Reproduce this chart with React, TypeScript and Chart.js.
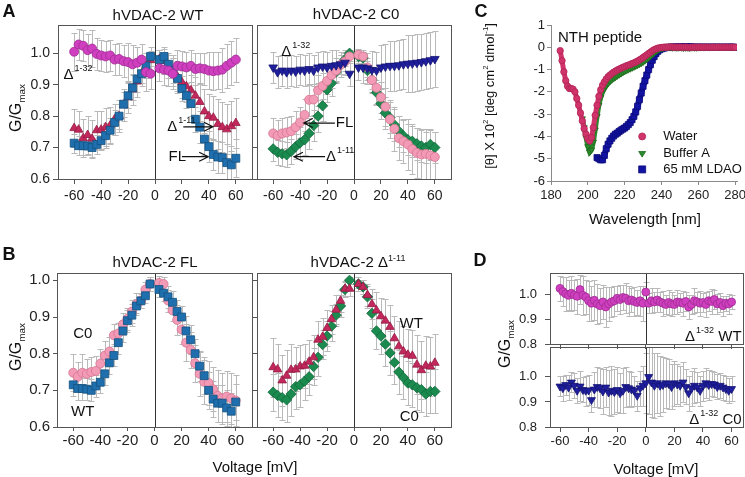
import React, { useEffect, useRef } from 'react';
import { Chart, registerables } from 'chart.js';
Chart.register(...registerables);

// ================= DATA =================
// Panels A and B: voltage (mV)
const V_AB = [-60, -56.7, -53.3, -50, -46.7, -43.3, -40, -36.7, -33.3, -30, -26.7, -23.3, -20, -16.7, -13.3, -10, -6.7, -3.3,
  3.3, 6.7, 10, 13.3, 16.7, 20, 23.3, 26.7, 30, 33.3, 36.7, 40, 43.3, 46.7, 50, 53.3, 56.7, 60];

// A: hVDAC-2 WT
const A_D132_WT = [1.005, 1.028, 1.024, 1.010, 1.015, 0.998, 0.993, 0.990, 0.993, 0.980, 0.982, 0.975, 0.972, 0.965, 0.970, 0.980, 0.940, 0.935,
  0.952, 0.948, 0.945, 0.935, 0.960, 0.958, 0.955, 0.960, 0.950, 0.952, 0.950, 0.945, 0.943, 0.945, 0.948, 0.960, 0.970, 0.980];
const A_D132_WT_ERR = [0.06, 0.05, 0.05, 0.05, 0.06, 0.05, 0.05, 0.05, 0.05, 0.05, 0.05, 0.05, 0.06, 0.06, 0.05, 0.05, 0.06, 0.05,
  0.04, 0.05, 0.05, 0.05, 0.05, 0.05, 0.05, 0.05, 0.05, 0.05, 0.05, 0.06, 0.06, 0.06, 0.07, 0.07, 0.07, 0.07];
const A_FL_WT = [0.714, 0.706, 0.706, 0.705, 0.700, 0.710, 0.722, 0.738, 0.755, 0.780, 0.800, 0.838, 0.865, 0.890, 0.918, 0.935, 0.960, 0.990,
  0.980, 0.990, 0.965, 0.945, 0.920, 0.888, 0.865, 0.840, 0.790, 0.765, 0.727, 0.703, 0.678, 0.670, 0.668, 0.652, 0.645, 0.666];
const A_FL_WT_ERR = [0.03, 0.03, 0.03, 0.03, 0.03, 0.03, 0.03, 0.04, 0.04, 0.04, 0.04, 0.04, 0.04, 0.04, 0.04, 0.03, 0.03, 0.03,
  0.03, 0.03, 0.03, 0.04, 0.04, 0.04, 0.04, 0.04, 0.04, 0.05, 0.05, 0.05, 0.05, 0.05, 0.05, 0.06, 0.06, 0.06];
const A_D111_WT = [0.762, 0.757, 0.730, 0.740, 0.728, 0.755, 0.757, 0.765, 0.770, 0.790, 0.800, 0.835, 0.860, 0.885, 0.910, 0.935, 0.960, 0.978,
  0.982, 0.975, 0.962, 0.945, 0.925, 0.908, 0.895, 0.882, 0.865, 0.845, 0.815, 0.800, 0.795, 0.775, 0.765, 0.758, 0.768, 0.778];
const A_D111_WT_ERR = [0.06, 0.06, 0.06, 0.06, 0.06, 0.06, 0.06, 0.06, 0.06, 0.05, 0.05, 0.05, 0.05, 0.05, 0.05, 0.04, 0.04, 0.03,
  0.03, 0.04, 0.04, 0.05, 0.05, 0.05, 0.05, 0.05, 0.06, 0.06, 0.07, 0.07, 0.07, 0.08, 0.08, 0.08, 0.08, 0.08];

// A: hVDAC-2 C0
const A_D132_C0 = [0.955, 0.940, 0.945, 0.940, 0.945, 0.942, 0.948, 0.945, 0.950, 0.945, 0.955, 0.958, 0.955, 0.960, 0.962, 0.965, 0.970, 0.935,
  0.955, 0.955, 0.952, 0.947, 0.945, 0.955, 0.958, 0.960, 0.960, 0.962, 0.965, 0.967, 0.968, 0.970, 0.972, 0.975, 0.978, 0.982];
const A_D132_C0_ERR = [0.05, 0.05, 0.05, 0.05, 0.05, 0.05, 0.05, 0.05, 0.05, 0.05, 0.05, 0.05, 0.05, 0.05, 0.05, 0.04, 0.04, 0.04,
  0.04, 0.05, 0.05, 0.06, 0.06, 0.07, 0.07, 0.08, 0.08, 0.08, 0.08, 0.09, 0.09, 0.09, 0.09, 0.09, 0.09, 0.09];
const A_FL_C0 = [0.745, 0.738, 0.745, 0.748, 0.752, 0.765, 0.780, 0.804, 0.852, 0.853, 0.882, 0.896, 0.912, 0.930, 0.945, 0.963, 0.974, 0.990,
  0.995, 0.990, 0.955, 0.915, 0.890, 0.860, 0.830, 0.790, 0.760, 0.730, 0.720, 0.710, 0.695, 0.683, 0.678, 0.680, 0.675, 0.670];
const A_FL_C0_ERR = [0.05, 0.05, 0.05, 0.05, 0.05, 0.05, 0.05, 0.05, 0.05, 0.05, 0.05, 0.04, 0.04, 0.04, 0.04, 0.03, 0.03, 0.02,
  0.02, 0.02, 0.03, 0.04, 0.05, 0.05, 0.06, 0.06, 0.07, 0.07, 0.07, 0.08, 0.08, 0.08, 0.08, 0.08, 0.08, 0.08];
const A_D111_C0 = [0.696, 0.685, 0.680, 0.677, 0.688, 0.703, 0.715, 0.725, 0.745, 0.770, 0.800, 0.833, 0.884, 0.905, 0.940, 0.963, 0.980, 1.000,
  0.990, 0.985, 0.945, 0.916, 0.875, 0.840, 0.810, 0.795, 0.772, 0.752, 0.737, 0.725, 0.720, 0.712, 0.705, 0.700, 0.710, 0.700];
const A_D111_C0_ERR = [0.04, 0.04, 0.04, 0.04, 0.04, 0.04, 0.05, 0.05, 0.05, 0.05, 0.05, 0.05, 0.04, 0.04, 0.03, 0.03, 0.02, 0.01,
  0.02, 0.02, 0.03, 0.04, 0.04, 0.05, 0.05, 0.05, 0.05, 0.05, 0.05, 0.05, 0.05, 0.05, 0.05, 0.05, 0.05, 0.05];

// B: hVDAC-2 FL
const B_FL_WT = [0.715, 0.705, 0.705, 0.703, 0.700, 0.712, 0.722, 0.745, 0.775, 0.795, 0.830, 0.862, 0.890, 0.905, 0.930, 0.944, 0.958, 0.990,
  0.975, 0.965, 0.955, 0.940, 0.915, 0.900, 0.862, 0.838, 0.800, 0.766, 0.740, 0.700, 0.676, 0.665, 0.665, 0.652, 0.643, 0.668];
const B_FL_WT_ERR = [0.03, 0.03, 0.03, 0.03, 0.03, 0.03, 0.03, 0.03, 0.03, 0.03, 0.03, 0.03, 0.03, 0.03, 0.02, 0.02, 0.02, 0.02,
  0.02, 0.02, 0.03, 0.03, 0.03, 0.03, 0.04, 0.04, 0.04, 0.04, 0.05, 0.05, 0.05, 0.05, 0.05, 0.05, 0.05, 0.05];
const B_FL_C0 = [0.748, 0.737, 0.748, 0.745, 0.750, 0.753, 0.773, 0.795, 0.806, 0.850, 0.855, 0.880, 0.895, 0.915, 0.935, 0.945, 0.975, 0.990,
  0.993, 0.990, 0.945, 0.918, 0.892, 0.866, 0.830, 0.810, 0.774, 0.745, 0.723, 0.720, 0.703, 0.685, 0.678, 0.683, 0.678, 0.672];
const B_FL_C0_ERR = [0.05, 0.04, 0.05, 0.04, 0.04, 0.04, 0.04, 0.04, 0.04, 0.03, 0.03, 0.03, 0.03, 0.03, 0.03, 0.02, 0.02, 0.02,
  0.02, 0.02, 0.03, 0.03, 0.04, 0.04, 0.05, 0.05, 0.05, 0.06, 0.06, 0.06, 0.06, 0.07, 0.07, 0.07, 0.07, 0.07];

// B: hVDAC-2 Δ1-11
const B_D111_WT = [0.763, 0.757, 0.727, 0.740, 0.756, 0.757, 0.765, 0.767, 0.778, 0.790, 0.838, 0.846, 0.870, 0.894, 0.920, 0.944, 0.977, 0.977,
  0.990, 0.982, 0.960, 0.935, 0.918, 0.902, 0.890, 0.873, 0.842, 0.820, 0.806, 0.797, 0.794, 0.770, 0.755, 0.767, 0.765, 0.775];
const B_D111_WT_ERR = [0.08, 0.07, 0.07, 0.07, 0.07, 0.06, 0.06, 0.06, 0.06, 0.06, 0.05, 0.05, 0.05, 0.04, 0.04, 0.03, 0.02, 0.02,
  0.02, 0.02, 0.03, 0.04, 0.05, 0.05, 0.06, 0.06, 0.06, 0.07, 0.07, 0.07, 0.07, 0.08, 0.08, 0.08, 0.08, 0.08];
const B_D111_C0 = [0.695, 0.686, 0.680, 0.674, 0.690, 0.710, 0.715, 0.725, 0.737, 0.765, 0.790, 0.825, 0.848, 0.875, 0.905, 0.930, 0.975, 1.000,
  0.990, 0.982, 0.955, 0.910, 0.862, 0.848, 0.826, 0.802, 0.776, 0.750, 0.735, 0.720, 0.715, 0.707, 0.702, 0.690, 0.697, 0.697];
const B_D111_C0_ERR = [0.05, 0.06, 0.06, 0.06, 0.06, 0.06, 0.06, 0.05, 0.05, 0.05, 0.05, 0.04, 0.04, 0.04, 0.03, 0.03, 0.02, 0.01,
  0.01, 0.02, 0.03, 0.04, 0.05, 0.05, 0.06, 0.06, 0.06, 0.06, 0.06, 0.06, 0.06, 0.06, 0.06, 0.06, 0.06, 0.06];

// C: CD spectra, wavelength (nm)
const WL = [185, 186, 187, 188, 189, 190, 191, 192, 193, 194, 195, 196, 197, 198, 199, 200, 201, 202, 203, 204,
  205, 206, 207, 208, 209, 210, 211, 212, 213, 214, 215, 216, 217, 218, 219, 220, 221, 222, 223, 224,
  225, 226, 227, 228, 229, 230, 231, 232, 233, 234, 235, 236, 237, 238, 239, 240, 241, 242, 243, 244,
  245, 246, 247, 248, 249, 250, 251, 252, 253, 254, 255, 256, 257, 258, 259, 260, 261, 262, 263, 264,
  265, 266, 267, 268, 269, 270, 271, 272, 273, 274, 275, 276, 277, 278, 279, 280];
// Water: from 185 nm
const CD_WATER = [-0.15, -0.60, -1.10, -1.50, -1.75, -1.85, -1.85, -1.88, -2.00, -2.30, -2.60, -2.95, -3.30, -3.65, -3.90, -4.10, -4.20, -4.05, -3.60, -3.05,
  -2.60, -2.20, -1.90, -1.70, -1.55, -1.42, -1.32, -1.25, -1.18, -1.12, -1.07, -1.02, -0.98, -0.94, -0.90, -0.87, -0.83, -0.80, -0.77, -0.73,
  -0.70, -0.66, -0.62, -0.57, -0.52, -0.46, -0.40, -0.34, -0.28, -0.22, -0.16, -0.11, -0.07, -0.04, -0.02, -0.01, 0.00, 0.01, 0.00, 0.01,
  0.02, 0.01, 0.00, 0.01, 0.00, 0.01, 0.00, 0.00, 0.01, 0.00, -0.01, 0.00, 0.00, 0.01, 0.00, 0.00, 0.01, 0.00, 0.00, 0.01,
  0.00, 0.00, 0.00, 0.01, 0.00, 0.00, 0.01, 0.00, 0.00, 0.00, 0.01, 0.00, 0.00, 0.01, 0.00, 0.00];
// Buffer A: from 197 nm
const CD_BUFFER = [-3.20, -3.60, -4.05, -4.45, -4.70, -4.60, -4.25, -3.70, -3.10, -2.60, -2.25, -2.00, -1.85, -1.72, -1.62, -1.53, -1.46, -1.40, -1.34, -1.28,
  -1.23, -1.18, -1.13, -1.08, -1.04, -1.00, -0.96, -0.92, -0.88, -0.84, -0.80, -0.76, -0.71, -0.66, -0.60, -0.54, -0.47, -0.40, -0.32, -0.25,
  -0.18, -0.12, -0.08, -0.05, -0.03, -0.01, -0.01, 0.00, -0.01, -0.02, -0.01, -0.02, -0.02, -0.01, -0.02, -0.03, -0.02, -0.02, -0.03, -0.02,
  -0.01, -0.02, -0.02, -0.01, -0.01, 0.00, -0.01, 0.00, 0.00, -0.01, 0.00, 0.00, 0.01, 0.00, 0.00, 0.00, 0.01, 0.00, 0.00, 0.01,
  0.00, 0.00, 0.01, 0.00];
// 65 mM LDAO: from 205 nm
const CD_LDAO = [-4.95, -5.00, -5.05, -5.05, -4.85, -4.55, -4.35, -4.20, -4.08, -3.98, -3.90, -3.85, -3.78, -3.72, -3.67, -3.62, -3.55, -3.47, -3.38, -3.25,
  -3.10, -2.90, -2.65, -2.35, -2.05, -1.75, -1.50, -1.25, -1.00, -0.78, -0.58, -0.42, -0.28, -0.18, -0.11, -0.07, -0.04, -0.02, -0.01, 0.00,
  0.01, 0.00, 0.01, 0.02, 0.01, 0.02, 0.01, 0.02, 0.03, 0.02, 0.01, 0.02, 0.01, 0.01, 0.00, 0.01, 0.00, 0.01, 0.00, 0.00,
  0.01, 0.00, 0.00, 0.01, 0.00, 0.01, 0.00, 0.00, 0.01, 0.00, 0.00, 0.01, 0.00, 0.01, 0.00, 0.00];
const BUFFER_START = 12; // index of 197 nm in WL
const LDAO_START = 20;   // index of 205 nm in WL

// D: Δ1-32 single-channel, voltage (mV)
const V_D = [-60, -58, -56, -54, -52, -50, -48, -46, -44, -42, -40, -38, -36, -34, -32, -30, -28, -26, -24, -22, -20, -18, -16, -14, -12, -10, -8, -6, -4, -2,
  0, 2, 4, 6, 8, 10, 12, 14, 16, 18, 20, 22, 24, 26, 28, 30, 32, 34, 36, 38, 40, 42, 44, 46, 48, 50, 52, 54, 56, 58, 60];
const D_WT = [1.025, 1.012, 1.003, 0.997, 1.005, 0.998, 0.993, 1.020, 0.997, 0.990, 0.975, 0.965, 0.977, 0.962, 0.955, 0.970, 0.950, 0.962, 0.970, 0.975,
  0.985, 0.980, 0.988, 0.985, 0.975, 0.978, 0.972, 0.968, 0.975, 0.965, 1.010, 0.965, 0.975, 0.970, 0.978, 0.970, 0.965, 0.960, 0.968, 0.962,
  0.960, 0.970, 0.968, 0.965, 0.972, 0.950, 0.960, 0.975, 0.970, 0.965, 0.968, 0.960, 0.975, 0.972, 0.980, 0.962, 0.968, 0.955, 0.965, 0.962, 0.970];
const D_WT_ERR = [0.05, 0.06, 0.07, 0.06, 0.07, 0.06, 0.07, 0.06, 0.08, 0.07, 0.08, 0.07, 0.08, 0.08, 0.07, 0.07, 0.08, 0.07, 0.06, 0.06,
  0.05, 0.06, 0.05, 0.06, 0.06, 0.05, 0.06, 0.05, 0.06, 0.07, 0.04, 0.04, 0.05, 0.04, 0.05, 0.04, 0.05, 0.04, 0.05, 0.05,
  0.04, 0.05, 0.04, 0.05, 0.04, 0.05, 0.04, 0.05, 0.04, 0.05, 0.04, 0.05, 0.04, 0.05, 0.04, 0.04, 0.04, 0.04, 0.03, 0.04, 0.03];
const D_C0 = [0.962, 0.955, 0.968, 0.958, 0.978, 0.965, 0.945, 0.962, 0.948, 0.945, 0.946, 0.908, 0.950, 0.960, 0.955, 0.942, 0.958, 0.938, 0.945, 0.940,
  0.948, 0.935, 0.945, 0.960, 0.955, 0.950, 0.945, 0.925, 0.955, 0.965, 0.975, 1.000, 0.978, 0.965, 0.975, 0.965, 0.968, 0.975, 0.972, 0.960,
  0.975, 0.970, 0.965, 0.978, 0.960, 0.935, 0.955, 0.965, 0.958, 0.945, 0.965, 0.975, 0.968, 0.972, 0.970, 0.960, 0.965, 0.958, 0.952, 0.945, 0.952];
const D_C0_ERR = [0.04, 0.05, 0.04, 0.05, 0.04, 0.05, 0.05, 0.06, 0.05, 0.06, 0.06, 0.05, 0.07, 0.08, 0.08, 0.09, 0.08, 0.09, 0.10, 0.09,
  0.09, 0.08, 0.09, 0.08, 0.07, 0.07, 0.06, 0.06, 0.07, 0.08, 0.12, 0.15, 0.14, 0.13, 0.12, 0.12, 0.11, 0.10, 0.10, 0.09,
  0.09, 0.08, 0.08, 0.08, 0.07, 0.07, 0.07, 0.07, 0.06, 0.06, 0.06, 0.06, 0.06, 0.05, 0.05, 0.05, 0.05, 0.05, 0.05, 0.05, 0.05];

// Ticks
const X_TICKS_V = [-60, -40, -20, 0, 20, 40, 60];
const Y_TICKS_AB = [0.6, 0.7, 0.8, 0.9, 1.0];
const Y_TICKS_D = [0.8, 0.9, 1.0];
const X_TICKS_WL = [180, 200, 220, 240, 260, 280];
const Y_TICKS_CD = [-6, -5, -4, -3, -2, -1, 0, 1];

// ================= STYLE =================
const FONT = 'Arial, "Liberation Sans", Helvetica, sans-serif';
const M = { l: 45, t: 15, r: 20, b: 32 };
const ERR_COLOR = '#b9b9b9';
const CAP = 3;

const COL = {
  magenta: ['#cf3fbf', '#9f2c93'],
  blue: ['#1f6fae', '#14507f'],
  red: ['#c2285c', '#951b44'],
  navy: ['#1f1f9e', '#131372'],
  pink: ['#f29ab6', '#d6768f'],
  green: ['#1b8a4f', '#10683a'],
  water: ['#d1336b', '#b02455'],
  buffer: ['#2b8a2b', '#1f6b1f'],
  ldao: ['#1212a3', '#0b0b7a'],
};

type Pt = { x: number; y: number };
function pts(xs: number[], ys: number[]): Pt[] {
  return ys.map((y, i) => ({ x: xs[i], y }));
}

function series(label: string, xs: number[], ys: number[], errs: number[] | null, col: string[], style: string, r: number, rot = 0, band = 0) {
  return {
    label,
    data: pts(xs, ys),
    errs,
    pointStyle: style,
    pointRadius: r,
    pointRotation: rot,
    pointBackgroundColor: col[0],
    pointBorderColor: col[1],
    pointBorderWidth: 0.8,
    backgroundColor: col[0],
    borderColor: col[0],
    borderWidth: band,
    showLine: band > 0,
  };
}

function drawMarker(ctx: CanvasRenderingContext2D, shape: string, x: number, y: number, r: number, col: string[]) {
  ctx.fillStyle = col[0];
  ctx.strokeStyle = col[1];
  ctx.lineWidth = 0.8;
  ctx.beginPath();
  if (shape === 'circle') ctx.arc(x, y, r, 0, Math.PI * 2);
  else if (shape === 'triDown') {
    ctx.moveTo(x - r, y - r * 0.6);
    ctx.lineTo(x + r, y - r * 0.6);
    ctx.lineTo(x, y + r);
    ctx.closePath();
  } else ctx.rect(x - r, y - r, 2 * r, 2 * r);
  ctx.fill();
  ctx.stroke();
}

function drawNote(ctx: CanvasRenderingContext2D, chart: any, n: any) {
  const xs = chart.scales.x, ys = chart.scales.y;
  const x = xs.getPixelForValue(n.x);
  const y = ys.getPixelForValue(n.y);
  const size = n.size || 15;
  const big = `${size}px ${FONT}`;
  const small = `${Math.round(size * 0.62)}px ${FONT}`;
  ctx.fillStyle = '#111';
  ctx.textBaseline = 'middle';
  ctx.textAlign = 'left';
  ctx.font = big;
  const w1 = ctx.measureText(n.text).width;
  let w2 = 0;
  if (n.sup) { ctx.font = small; w2 = ctx.measureText(n.sup).width + 1; }
  let w3 = 0;
  if (n.post) { ctx.font = big; w3 = ctx.measureText(n.post).width; }
  const total = w1 + w2 + w3;
  const sx = n.align === 'right' ? x - total : n.align === 'center' ? x - total / 2 : x;
  ctx.font = big;
  ctx.fillText(n.text, sx, y);
  if (n.sup) { ctx.font = small; ctx.fillText(n.sup, sx + w1 + 1, y - size * 0.42); }
  if (n.post) { ctx.font = big; ctx.fillText(n.post, sx + w1 + w2, y); }
  if (n.arrow) {
    const x1 = xs.getPixelForValue(n.arrow[0]);
    const x2 = xs.getPixelForValue(n.arrow[1]);
    ctx.strokeStyle = '#111';
    ctx.lineWidth = 1.2;
    ctx.beginPath();
    ctx.moveTo(x1, y);
    ctx.lineTo(x2, y);
    const d = Math.sign(x2 - x1);
    ctx.moveTo(x2 - d * 9, y - 4.5);
    ctx.lineTo(x2, y);
    ctx.lineTo(x2 - d * 9, y + 4.5);
    ctx.stroke();
  }
}

function makeDeco(p: any) {
  return {
    id: 'deco',
    beforeDatasetsDraw(chart: any) {
      const { ctx, chartArea: a } = chart;
      const xs = chart.scales.x, ys = chart.scales.y;
      ctx.save();
      ctx.beginPath();
      ctx.rect(a.left, a.top, a.right - a.left, a.bottom - a.top);
      ctx.clip();
      ctx.lineWidth = 1;
      ctx.strokeStyle = ERR_COLOR;
      for (const ds of chart.data.datasets) {
        if (!ds.errs) continue;
        ds.data.forEach((pt: Pt, i: number) => {
          const e = ds.errs[i];
          if (e == null) return;
          const px = Math.round(xs.getPixelForValue(pt.x)) + 0.5;
          const t = Math.round(ys.getPixelForValue(pt.y + e)) + 0.5;
          const b = Math.round(ys.getPixelForValue(pt.y - e)) + 0.5;
          ctx.beginPath();
          ctx.moveTo(px, t); ctx.lineTo(px, b);
          ctx.moveTo(px - CAP, t); ctx.lineTo(px + CAP, t);
          ctx.moveTo(px - CAP, b); ctx.lineTo(px + CAP, b);
          ctx.stroke();
        });
      }
      if (p.zeroLine) {
        const zx = Math.round(xs.getPixelForValue(0)) + 0.5;
        ctx.strokeStyle = '#333';
        ctx.beginPath();
        ctx.moveTo(zx, a.top);
        ctx.lineTo(zx, a.bottom);
        ctx.stroke();
      }
      ctx.restore();
    },
    afterDatasetsDraw(chart: any) {
      const { ctx, chartArea: a } = chart;
      ctx.save();
      if (p.box) {
        ctx.strokeStyle = '#555';
        ctx.lineWidth = 1;
        ctx.strokeRect(Math.round(a.left) + 0.5, Math.round(a.top) + 0.5, Math.round(a.right - a.left), Math.round(a.bottom - a.top));
      }
      (p.notes || []).forEach((n: any) => drawNote(ctx, chart, n));
      (p.legend || []).forEach((l: any) => {
        const mx = chart.scales.x.getPixelForValue(l.x);
        const my = chart.scales.y.getPixelForValue(l.y);
        drawMarker(ctx, l.shape, mx, my, 3.5, l.col);
        ctx.fillStyle = '#111';
        ctx.font = `13px ${FONT}`;
        ctx.textAlign = 'left';
        ctx.textBaseline = 'middle';
        ctx.fillText(l.label, chart.scales.x.getPixelForValue(l.tx), my);
      });
      ctx.restore();
    },
  };
}

function buildConfig(p: any) {
  const tickFont = { family: FONT, size: p.tickSize };
  return {
    type: 'scatter',
    data: { datasets: p.datasets },
    options: {
      responsive: false,
      animation: false,
      events: [],
      layout: { padding: { left: 0, top: M.t, right: M.r, bottom: 0 } },
      plugins: { legend: { display: false }, tooltip: { enabled: false } },
      elements: { line: { tension: 0 } },
      scales: {
        x: {
          type: 'linear',
          position: 'bottom',
          min: p.xMin,
          max: p.xMax,
          afterBuildTicks: (s: any) => { s.ticks = p.xTicks.map((v: number) => ({ value: v })); },
          afterFit: (s: any) => { s.height = M.b; },
          ticks: { display: p.xLabels !== false, font: tickFont, color: '#222', padding: p.xPad, maxRotation: 0, autoSkip: false, callback: (v: number) => String(v) },
          grid: { drawOnChartArea: false, drawTicks: true, tickLength: p.tickLen, color: p.axisColor },
          border: { display: !!p.border, color: p.axisColor },
        },
        y: {
          type: 'linear',
          position: 'left',
          min: p.yMin,
          max: p.yMax,
          afterBuildTicks: (s: any) => { s.ticks = p.yTicks.map((v: number) => ({ value: v })); },
          afterFit: (s: any) => { s.width = M.l; },
          ticks: { display: p.yLabels !== false, font: tickFont, color: '#222', padding: p.yPad, autoSkip: false, callback: (v: number) => (p.yFmt ? p.yFmt(v) : String(v)) },
          grid: { drawOnChartArea: false, drawTicks: true, tickLength: p.tickLen, color: p.axisColor },
          border: { display: !!p.border, color: p.axisColor },
        },
      },
    },
    plugins: [makeDeco(p)],
  };
}

type Area = { l: number; t: number; r: number; b: number };

function ChartBox({ area, build }: { area: Area; build: () => any }) {
  const ref = useRef<HTMLCanvasElement>(null);
  const w = area.r - area.l + M.l + M.r;
  const h = area.b - area.t + M.t + M.b;
  useEffect(() => {
    const chart = new Chart(ref.current as HTMLCanvasElement, build());
    return () => chart.destroy();
  }, []);
  return (
    <canvas
      ref={ref}
      width={w}
      height={h}
      style={{ position: 'absolute', left: area.l - M.l, top: area.t - M.t, width: w, height: h }}
    />
  );
}

const fmt1 = (v: number) => v.toFixed(1);

const vCommon = { xMin: -72, xMax: 72, xTicks: X_TICKS_V, yTicks: Y_TICKS_AB, yFmt: fmt1, box: true, zeroLine: true, axisColor: '#555' };

const buildALeft = () => buildConfig({
  ...vCommon, yMin: 0.6, yMax: 1.09, tickSize: 14, xPad: 4, yPad: 3, tickLen: 5,
  datasets: [
    series('Δ1-32 WT', V_AB, A_D132_WT, A_D132_WT_ERR, COL.magenta, 'circle', 4.5),
    series('FL WT', V_AB, A_FL_WT, A_FL_WT_ERR, COL.blue, 'rect', 5.6),
    series('Δ1-11 WT', V_AB, A_D111_WT, A_D111_WT_ERR, COL.red, 'triangle', 5),
  ],
  notes: [
    { text: 'Δ', sup: '1-32', x: -68, y: 0.93 },
    { text: 'Δ', sup: '1-11', x: 9, y: 0.766, arrow: [21, 43] },
    { text: 'FL', x: 10, y: 0.671, arrow: [20, 39.5] },
  ],
});

const buildARight = () => buildConfig({
  ...vCommon, yMin: 0.6, yMax: 1.09, tickSize: 14, xPad: 4, yPad: 3, tickLen: 5, yLabels: false,
  datasets: [
    series('Δ1-32 C0', V_AB, A_D132_C0, A_D132_C0_ERR, COL.navy, 'triangle', 5, 180),
    series('FL C0', V_AB, A_FL_C0, A_FL_C0_ERR, COL.pink, 'circle', 4.5),
    series('Δ1-11 C0', V_AB, A_D111_C0, A_D111_C0_ERR, COL.green, 'rectRot', 5.2),
  ],
  notes: [
    { text: 'Δ', sup: '1-32', x: -54, y: 1.004 },
    { text: 'FL', x: -13.5, y: 0.778, arrow: [-14.2, -37.3] },
    { text: 'Δ', sup: '1-11', x: -20.8, y: 0.671, arrow: [-21.5, -44.6] },
  ],
});

const buildBLeft = () => buildConfig({
  ...vCommon, yMin: 0.6, yMax: 1.02, tickSize: 15, xPad: 1, yPad: 3, tickLen: 4,
  datasets: [
    series('FL WT', V_AB, B_FL_WT, B_FL_WT_ERR, COL.blue, 'rect', 5.6),
    series('FL C0', V_AB, B_FL_C0, B_FL_C0_ERR, COL.pink, 'circle', 4.5),
  ],
  notes: [
    { text: 'C0', x: -53, y: 0.853, align: 'center' },
    { text: 'WT', x: -53, y: 0.641, align: 'center' },
  ],
});

const buildBRight = () => buildConfig({
  ...vCommon, yMin: 0.6, yMax: 1.02, tickSize: 15, xPad: 1, yPad: 3, tickLen: 4, yLabels: false,
  datasets: [
    series('Δ1-11 WT', V_AB, B_D111_WT, B_D111_WT_ERR, COL.red, 'triangle', 5),
    series('Δ1-11 C0', V_AB, B_D111_C0, B_D111_C0_ERR, COL.green, 'rectRot', 5.2),
  ],
  notes: [
    { text: 'WT', x: 42.5, y: 0.88, align: 'center' },
    { text: 'C0', x: 41, y: 0.628, align: 'center' },
  ],
});

const buildC = () => buildConfig({
  xMin: 180, xMax: 281, yMin: -6, yMax: 1, xTicks: X_TICKS_WL, yTicks: Y_TICKS_CD,
  tickSize: 13, xPad: 3, yPad: 2, tickLen: 4, border: true, axisColor: '#8a8a8a',
  datasets: [
    series('Water', WL, CD_WATER, null, COL.water, 'circle', 3.2, 0, 5),
    series('Buffer A', WL.slice(BUFFER_START), CD_BUFFER, null, COL.buffer, 'triangle', 3.6, 180, 5),
    series('65 mM LDAO', WL.slice(LDAO_START), CD_LDAO, null, COL.ldao, 'rect', 4.3, 0, 6),
  ],
  notes: [{ text: 'NTH peptide', x: 183.8, y: 0.43, size: 15 }],
  legend: [
    { label: 'Water', shape: 'circle', col: COL.water, x: 229.5, tx: 240.9, y: -4.0 },
    { label: 'Buffer A', shape: 'triDown', col: COL.buffer, x: 229.5, tx: 240.9, y: -4.77 },
    { label: '65 mM LDAO', shape: 'rect', col: COL.ldao, x: 229.5, tx: 240.9, y: -5.48 },
  ],
});

const dCommon = { xMin: -67, xMax: 68, xTicks: X_TICKS_V, yTicks: Y_TICKS_D, yFmt: fmt1, box: true, zeroLine: true, axisColor: '#555', tickSize: 13, xPad: 2, yPad: 8, tickLen: 5 };

const buildDTop = () => buildConfig({
  ...dCommon, yMin: 0.8, yMax: 1.088, xLabels: false,
  datasets: [series('Δ1-32 WT', V_D, D_WT, D_WT_ERR, COL.magenta, 'circle', 4)],
  notes: [{ text: 'Δ', sup: '1-32', post: ' WT', x: 67, y: 0.829, align: 'right' }],
});

const buildDBottom = () => buildConfig({
  ...dCommon, yMin: 0.8, yMax: 1.12,
  datasets: [series('Δ1-32 C0', V_D, D_C0, D_C0_ERR, COL.navy, 'triangle', 4.6, 180)],
  notes: [{ text: 'Δ', sup: '1-32', post: ' C0', x: 67, y: 0.827, align: 'right' }],
});

function Txt({ x, y, size = 15, bold = false, rotate = false, children }: any) {
  return (
    <div
      style={{
        position: 'absolute',
        left: x,
        top: y,
        transform: `translate(-50%, -50%)${rotate ? ' rotate(-90deg)' : ''}`,
        fontFamily: FONT,
        fontSize: size,
        fontWeight: bold ? 700 : 400,
        color: '#111',
        whiteSpace: 'nowrap',
        lineHeight: 1,
      }}
    >
      {children}
    </div>
  );
}

const supStyle: React.CSSProperties = { fontSize: '0.6em', verticalAlign: 'super', lineHeight: 0 };
const subStyle: React.CSSProperties = { fontSize: '0.62em', verticalAlign: 'sub', lineHeight: 0 };

export default function App() {
  return (
    <div style={{ position: 'absolute', left: 0, top: 0, width: 745, height: 477, background: '#fff', overflow: 'hidden' }}>
      <ChartBox area={{ l: 58, t: 25, r: 252, b: 179 }} build={buildALeft} />
      <ChartBox area={{ l: 257, t: 25, r: 451, b: 179 }} build={buildARight} />
      <ChartBox area={{ l: 57, t: 273, r: 252, b: 427 }} build={buildBLeft} />
      <ChartBox area={{ l: 257, t: 273, r: 451, b: 427 }} build={buildBRight} />
      <ChartBox area={{ l: 551, t: 25, r: 737, b: 181 }} build={buildC} />
      <ChartBox area={{ l: 550, t: 272, r: 743, b: 344 }} build={buildDTop} />
      <ChartBox area={{ l: 550, t: 346, r: 743, b: 427 }} build={buildDBottom} />

      <Txt x={9} y={11} size={18} bold>A</Txt>
      <Txt x={9} y={254} size={18} bold>B</Txt>
      <Txt x={481} y={11} size={18} bold>C</Txt>
      <Txt x={480} y={260} size={18} bold>D</Txt>

      <Txt x={158} y={14}>hVDAC-2 WT</Txt>
      <Txt x={356} y={13}>hVDAC-2 C0</Txt>
      <Txt x={155} y={261}>hVDAC-2 FL</Txt>
      <Txt x={358} y={261}>hVDAC-2 Δ<span style={supStyle}>1-11</span></Txt>

      <Txt x={16} y={108} size={16} rotate>G/G<span style={subStyle}>max</span></Txt>
      <Txt x={16} y={347} size={16} rotate>G/G<span style={subStyle}>max</span></Txt>
      <Txt x={505} y={344} size={16} rotate>G/G<span style={subStyle}>max</span></Txt>

      <Txt x={255} y={466}>Voltage [mV]</Txt>
      <Txt x={656} y={468}>Voltage [mV]</Txt>
      <Txt x={645} y={218}>Wavelength [nm]</Txt>
      <Txt x={489} y={96} size={13} rotate>
        [θ] X 10<span style={supStyle}>2</span> [deg cm<span style={supStyle}>2</span> dmol<span style={supStyle}>-1</span>]
      </Txt>
    </div>
  );
}
